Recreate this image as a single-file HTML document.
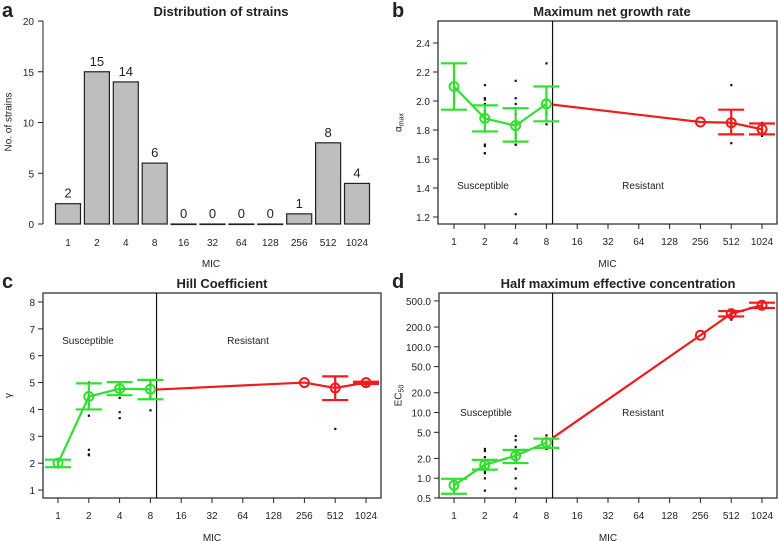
<!DOCTYPE html>
<html><head><meta charset="utf-8">
<style>
body{margin:0;background:#fff;}
svg{display:block;font-family:"Liberation Sans",Arial,sans-serif;}
</style></head>
<body>
<svg id="fig" width="779" height="541" viewBox="0 0 779 541" xmlns="http://www.w3.org/2000/svg"></svg>
<script>
// shared categories
const micLabels = ["1","2","4","8","16","32","64","128","256","512","1024"];
// panel a
const strainCounts = [2,15,14,6,0,0,0,0,1,8,4];
const aTicks = [0,5,10,15,20];
// panel b
const bTicks = [1.2,1.4,1.6,1.8,2.0,2.2,2.4];
const bGreenIdx = [0,1,2,3];
const bGreenMean = [2.10,1.88,1.83,1.98];
const bGreenLo = [1.94,1.79,1.72,1.86];
const bGreenHi = [2.26,1.97,1.95,2.10];
const bRedIdx = [3.2,8,9,10];
const bRedMean = [1.975,1.855,1.85,1.805];
const bRedLo = [null,null,1.77,1.77];
const bRedHi = [null,null,1.94,1.845];
const bRedCircle = [false,true,true,true];
const bDots = [[0,2.18],[0,2.02],[1,2.11],[1,2.02],[1,2.01],[1,1.98],[1,1.93],[1,1.88],[1,1.86],[1,1.79],[1,1.70],[1,1.69],[1,1.64],[1,1.64],[2,2.14],[2,2.02],[2,1.98],[2,1.95],[2,1.91],[2,1.85],[2,1.80],[2,1.77],[2,1.75],[2,1.70],[2,1.70],[2,1.22],[3,2.26],[3,2.01],[3,1.92],[3,1.91],[3,1.84],[9,2.11],[9,1.84],[9,1.82],[9,1.71],[10,1.85],[10,1.80],[10,1.76]];
// panel c
const cTicks = [1,2,3,4,5,6,7,8];
const cGreenIdx = [0,1,2,3];
const cGreenMean = [2.0,4.48,4.77,4.75];
const cGreenLo = [1.85,4.0,4.53,4.38];
const cGreenHi = [2.13,4.97,5.02,5.1];
const cRedIdx = [3.2,8,9,10];
const cRedMean = [4.74,5.0,4.8,5.0];
const cRedLo = [null,null,4.35,4.95];
const cRedHi = [null,null,5.23,5.03];
const cRedCircle = [false,true,true,true];
const cDots = [[0,2.05],[0,1.92],[1,5.0],[1,4.4],[1,4.2],[1,3.77],[1,2.5],[1,2.33],[1,2.3],[2,5.0],[2,4.7],[2,4.43],[2,3.9],[2,3.68],[3,5.0],[3,4.6],[3,4.43],[3,3.97],[9,5.0],[9,3.28],[10,5.0],[10,4.93]];
// panel d
const dTicks = [0.5,1,2,5,10,20,50,100,200,500];
const dTickLabels = ["0.5","1.0","2.0","5.0","10.0","20.0","50.0","100.0","200.0","500.0"];
const dGreenIdx = [0,1,2,3];
const dGreenMean = [0.78,1.6,2.2,3.5];
const dGreenLo = [0.58,1.35,1.7,2.9];
const dGreenHi = [0.98,1.9,2.7,4.0];
const dRedIdx = [3.2,8,9,10];
const dRedMean = [4.1,150,320,430];
const dRedLo = [null,null,290,390];
const dRedHi = [null,null,350,470];
const dRedCircle = [false,true,true,true];
const dDots = [[0,0.9],[0,0.68],[1,2.8],[1,2.6],[1,2.1],[1,1.8],[1,1.6],[1,1.4],[1,1.3],[1,1.2],[1,1.0],[1,0.65],[2,4.4],[2,3.8],[2,3.0],[2,2.7],[2,2.4],[2,2.1],[2,2.0],[2,1.8],[2,1.4],[2,1.0],[2,0.7],[3,4.5],[3,3.8],[3,3.3],[3,2.8],[9,330],[9,260],[10,450],[10,380]];

const svg = document.getElementById('fig');
const NS = "http://www.w3.org/2000/svg";
function el(tag, attrs, parent){const e=document.createElementNS(NS,tag);for(const k in attrs)e.setAttribute(k,attrs[k]);(parent||svg).appendChild(e);return e;}
function txt(s,x,y,size,anchor,weight,parent){const t=el('text',{x:x,y:y,'font-size':size,'text-anchor':anchor||'middle','font-weight':weight||'normal',fill:'#222'},parent);t.textContent=s;return t;}

// ---------- Panel a ----------
(function(){
  const g=el('g',{});
  
  
  const y0=224, y1=21, yMax=20;
  const yS=v=>y0-(v/yMax)*(y0-y1);
  const xS=i=>68+i*28.9;
  const lab=txt('a',2,17,20,'start','bold',g);
  
  const t=txt('Distribution of strains',221,16,13,'middle','bold',g);
  
  const ax=el('line',{x1:43,x2:43,y1:yS(0),y2:yS(20),stroke:'#222','stroke-width':1},g);
  
  aTicks.forEach(v=>{
    el('line',{x1:38,x2:43,y1:yS(v),y2:yS(v),stroke:'#222'},g);
    const tl=txt(String(v),34,yS(v)+4,10,'end','normal',g);
    
  });
  const yt=el('text',{x:8,y:122,'font-size':10,'text-anchor':'middle',fill:'#222',transform:'rotate(-90 8 122)',dy:'0.35em'},g);
  yt.textContent='No. of strains';
  
  strainCounts.forEach((v,i)=>{
    const b=el('rect',{x:xS(i)-12.5,y:yS(v),width:25,height:Math.max(yS(0)-yS(v),0.5),fill:'#bebebe',stroke:'#222','stroke-width':1.2},g);
    
    const vl=txt(String(v),xS(i),yS(v)-6,13,'middle','normal',g);
    
    const xl=txt(micLabels[i],xS(i),246,10,'middle','normal',g);
    
  });
  const xt=txt('MIC',211,267,10,'middle','normal',g);
  
})();

// ---------- generic line panel ----------
function linePanel(c){
  const g=el('g',{});
  
  
  const xS=i=>c.x0+i*30.8;
  const yS=c.yS;
  const lab=txt(c.letter,c.lx,c.ly,20,'start','bold',g);
  
  const t=txt(c.title,c.tx,c.ty,13,'middle','bold',g);
  
  const box=el('rect',{x:c.bx0,y:c.by0,width:c.bx1-c.bx0,height:c.by1-c.by0,fill:'none',stroke:'#222','stroke-width':1.2},g);
  
  c.ticks.forEach((v,k)=>{
    el('line',{x1:c.bx0-5,x2:c.bx0,y1:yS(v),y2:yS(v),stroke:'#222'},g);
    const tl=txt(c.tickLabels?c.tickLabels[k]:(c.fmt?c.fmt(v):String(v)),c.bx0-8,yS(v)+4,10,'end','normal',g);
    
  });
  micLabels.forEach((m,i)=>{
    el('line',{x1:xS(i),x2:xS(i),y1:c.by1,y2:c.by1+5,stroke:'#222'},g);
    const xl=txt(m,xS(i),c.by1+21,10,'middle','normal',g);
    
  });
  const xt=txt('MIC',(c.bx0+c.bx1)/2,c.by1+43,10,'middle','normal',g);
  
  const yt=el('text',{x:c.ytx,y:(c.by0+c.by1)/2,'font-size':10,'text-anchor':'middle',fill:'#222',transform:`rotate(-90 ${c.ytx} ${(c.by0+c.by1)/2})`,dy:'0.35em'},g);
  yt.innerHTML=c.ytitle;
  
  const vl=el('line',{x1:xS(3.2),x2:xS(3.2),y1:c.by0,y2:c.by1,stroke:'#111','stroke-width':1.2},g);
  
  const s1=txt('Susceptible',c.sx,c.sy,10,'middle','normal',g);
  
  const s2=txt('Resistant',c.rx,c.sy,10,'middle','normal',g);
  
  c.dots.forEach(d=>{
    const r=el('rect',{x:xS(d[0])-1,y:yS(d[1])-1,width:2.2,height:2.2,fill:'#111'},g);
    
  });
  function series(idx,mean,lo,hi,circ,color,nm){
    const pl=el('polyline',{points:idx.map((i,k)=>xS(i)+','+yS(mean[k])).join(' '),fill:'none',stroke:color,'stroke-width':2.2},g);
    
    idx.forEach((i,k)=>{
      if(lo[k]!=null){
        const eb=el('path',{d:`M${xS(i)},${yS(lo[k])}V${yS(hi[k])}M${xS(i)-13},${yS(lo[k])}H${xS(i)+13}M${xS(i)-13},${yS(hi[k])}H${xS(i)+13}`,stroke:color,'stroke-width':2.2,fill:'none'},g);
        
      }
      if(circ[k]){
        const ci=el('circle',{cx:xS(i),cy:yS(mean[k]),r:4.5,fill:'none',stroke:color,'stroke-width':2},g);
        
      }
    });
  }
  series(c.rIdx,c.rMean,c.rLo,c.rHi,c.rCirc,'#ee1c1c','resistant');
  series(c.gIdx,c.gMean,c.gLo,c.gHi,c.gIdx.map(()=>true),'#2fe02f','susceptible');
}

linePanel({name:'panel-b-growth-rate',letter:'b',lx:392,ly:17,title:'Maximum net growth rate',tx:612,ty:16,
  bx0:438,bx1:777,by0:21,by1:224,x0:454,
  yS:v=>43+(2.4-v)*145,ticks:bTicks,fmt:v=>v.toFixed(1),
  ytx:398,ytitle:'α<tspan font-size="7" dy="2">max</tspan>',sx:483,rx:643,sy:189,dots:bDots,
  gIdx:bGreenIdx,gMean:bGreenMean,gLo:bGreenLo,gHi:bGreenHi,
  rIdx:bRedIdx,rMean:bRedMean,rLo:bRedLo,rHi:bRedHi,rCirc:bRedCircle});

linePanel({name:'panel-c-hill-coefficient',letter:'c',lx:2,ly:288,title:'Hill Coefficient',tx:222,ty:288,
  bx0:43,bx1:381,by0:293,by1:498,x0:58,
  yS:v=>302+(8-v)*26.86,ticks:cTicks,
  ytx:8,ytitle:'γ',sx:88,rx:248,sy:344,dots:cDots,
  gIdx:cGreenIdx,gMean:cGreenMean,gLo:cGreenLo,gHi:cGreenHi,
  rIdx:cRedIdx,rMean:cRedMean,rLo:cRedLo,rHi:cRedHi,rCirc:cRedCircle});

linePanel({name:'panel-d-ec50',letter:'d',lx:392,ly:288,title:'Half maximum effective concentration',tx:618,ty:288,
  bx0:439,bx1:777,by0:293,by1:498,x0:454,
  yS:v=>498-(Math.log10(v)-Math.log10(0.5))*65.7,ticks:dTicks,tickLabels:dTickLabels,
  ytx:398,ytitle:'EC<tspan font-size="7" dy="2">50</tspan>',sx:486,rx:643,sy:416,dots:dDots,
  gIdx:dGreenIdx,gMean:dGreenMean,gLo:dGreenLo,gHi:dGreenHi,
  rIdx:dRedIdx,rMean:dRedMean,rLo:dRedLo,rHi:dRedHi,rCirc:dRedCircle});
</script>
</body></html>
